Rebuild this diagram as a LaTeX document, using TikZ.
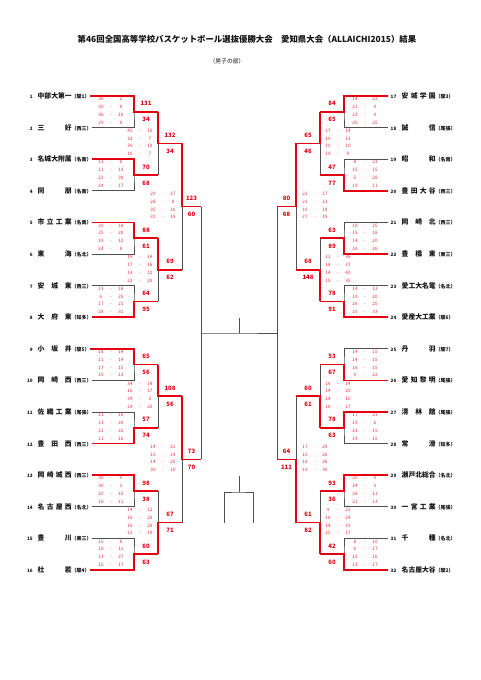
\documentclass[tikz,border=0pt]{standalone}
\usepackage{fontspec}
\setmainfont{Noto Sans CJK JP}
\usetikzlibrary{positioning}
\definecolor{winred}{RGB}{228,0,18}
\definecolor{scorered}{RGB}{232,40,50}
\definecolor{losegray}{RGB}{80,80,80}
\definecolor{titleblack}{RGB}{20,20,20}
% team label: number, spread name, district
\newcommand{\lteam}[3]{\makebox[7pt][r]{\fontsize{4.6}{5}\selectfont #1}\hspace{5pt}\makebox[34pt][s]{#2}{\fontsize{5}{6}\selectfont （#3）}}
\newcommand{\rteam}[3]{\hspace{2pt}\makebox[7pt][l]{\fontsize{4.6}{5}\selectfont #1}\hspace{4pt}\makebox[34pt][s]{#2}{\fontsize{5}{6}\selectfont （#3）}}
\newcommand{\qscore}[2]{\makebox[8pt]{#1}\makebox[12pt]{-}\makebox[8pt]{#2}}

\begin{document}
\begin{tikzpicture}[
                        x=1pt, y=-1pt,
                        team/.style={inner sep=0.5pt, text=titleblack,
                                font=\fontsize{6.8}{8}\selectfont\bfseries},
                        quarters/.style={align=center, inner sep=0pt, text=scorered,
                                font=\fontsize{4.6}{7.8}\selectfont},
                        total/.style={inner sep=0pt, text=winred,
                                font=\fontsize{6}{7}\selectfont\bfseries},
                        gline/.style={draw=losegray, line width=0.85pt},
                        wline/.style={draw=winred, line width=1.5pt}
                    ]
                    \useasboundingbox (0,0) rectangle (481,680);

                    % ===== Title =====
                    \node[text=titleblack, font=\fontsize{8.4}{10}\selectfont\bfseries] (title) at (247,39)
                    {第46回全国高等学校バスケットボール選抜優勝大会　愛知県大会（ALLAICHI2015）結果};
                    \node[text=titleblack, font=\fontsize{5.8}{7}\selectfont] (subtitle) at (227,61) {（男子の部）};

                    % ===== Teams (left) =====
                    \node[team, anchor=west] (t1) at (25,96) {\lteam{1}{中部大第一}{駿1}};
                    \node[team, anchor=west] (t2) at (25,127.6) {\lteam{2}{三\hfill 好}{西三}};
                    \node[team, anchor=west] (t3) at (25,159.2) {\lteam{3}{名城大附属}{名南}};
                    \node[team, anchor=west] (t4) at (25,190.8) {\lteam{4}{同\hfill 朋}{名南}};
                    \node[team, anchor=west] (t5) at (25,222.4) {\lteam{5}{市\hfill 立\hfill 工\hfill 業}{名南}};
                    \node[team, anchor=west] (t6) at (25,254) {\lteam{6}{東\hfill 海}{名北}};
                    \node[team, anchor=west] (t7) at (25,285.6) {\lteam{7}{安\hfill 城\hfill 東}{西三}};
                    \node[team, anchor=west] (t8) at (25,317.2) {\lteam{8}{大\hfill 府\hfill 東}{知多}};
                    \node[team, anchor=west] (t9) at (25,348.8) {\lteam{9}{小\hfill 坂\hfill 井}{駿5}};
                    \node[team, anchor=west] (t10) at (25,380.4) {\lteam{10}{岡\hfill 崎\hfill 西}{西三}};
                    \node[team, anchor=west] (t11) at (25,412) {\lteam{11}{佐\hfill 織\hfill 工\hfill 業}{尾張}};
                    \node[team, anchor=west] (t12) at (25,443.6) {\lteam{12}{豊\hfill 田\hfill 西}{西三}};
                    \node[team, anchor=west] (t13) at (25,475.2) {\lteam{13}{岡\hfill 崎\hfill 城\hfill 西}{西三}};
                    \node[team, anchor=west] (t14) at (25,506.8) {\lteam{14}{名\hfill 古\hfill 屋\hfill 西}{名北}};
                    \node[team, anchor=west] (t15) at (25,538.4) {\lteam{15}{豊\hfill 川}{東三}};
                    \node[team, anchor=west] (t16) at (25,570) {\lteam{16}{杜\hfill 若}{駿4}};

                    % ===== Teams (right) =====
                    \node[team, anchor=west] (t17) at (388,96) {\rteam{17}{安\hfill 城\hfill 学\hfill 園}{駿3}};
                    \node[team, anchor=west] (t18) at (388,127.6) {\rteam{18}{誠\hfill 信}{尾張}};
                    \node[team, anchor=west] (t19) at (388,159.2) {\rteam{19}{昭\hfill 和}{名南}};
                    \node[team, anchor=west] (t20) at (388,190.8) {\rteam{20}{豊\hfill 田\hfill 大\hfill 谷}{西三}};
                    \node[team, anchor=west] (t21) at (388,222.4) {\rteam{21}{岡\hfill 崎\hfill 北}{西三}};
                    \node[team, anchor=west] (t22) at (388,254) {\rteam{22}{豊\hfill 橋\hfill 東}{東三}};
                    \node[team, anchor=west] (t23) at (388,285.6) {\rteam{23}{愛工大名電}{名北}};
                    \node[team, anchor=west] (t24) at (388,317.2) {\rteam{24}{愛産大工業}{駿6}};
                    \node[team, anchor=west] (t25) at (388,348.8) {\rteam{25}{丹\hfill 羽}{駿7}};
                    \node[team, anchor=west] (t26) at (388,380.4) {\rteam{26}{愛\hfill 知\hfill 黎\hfill 明}{尾張}};
                    \node[team, anchor=west] (t27) at (388,412) {\rteam{27}{清\hfill 林\hfill 館}{尾張}};
                    \node[team, anchor=west] (t28) at (388,443.6) {\rteam{28}{常\hfill 滑}{知多}};
                    \node[team, anchor=west] (t29) at (388,475.2) {\rteam{29}{瀬戸北総合}{名北}};
                    \node[team, anchor=west] (t30) at (388,506.8) {\rteam{30}{一\hfill 宮\hfill 工\hfill 業}{尾張}};
                    \node[team, anchor=west] (t31) at (388,538.4) {\rteam{31}{千\hfill 種}{名北}};
                    \node[team, anchor=west] (t32) at (388,570) {\rteam{32}{名古屋大谷}{駿2}};

                    % ===== Bracket junctions =====
                    \coordinate (a1) at (134,111.8);  \coordinate (a2) at (134,175);
                    \coordinate (a3) at (134,238.2);  \coordinate (a4) at (134,301.4);
                    \coordinate (a5) at (134,364.6);  \coordinate (a6) at (134,427.8);
                    \coordinate (a7) at (134,491);    \coordinate (a8) at (134,554.2);
                    \coordinate (b1) at (158,143.4);  \coordinate (b2) at (158,269.8);
                    \coordinate (b3) at (158,396.2);  \coordinate (b4) at (158,522.6);
                    \coordinate (c1) at (182,206.6);  \coordinate (c2) at (182,459.4);
                    \coordinate (d1) at (201,333);
                    \coordinate (a9) at (344,111.8);  \coordinate (a10) at (344,175);
                    \coordinate (a11) at (344,238.2); \coordinate (a12) at (344,301.4);
                    \coordinate (a13) at (344,364.6); \coordinate (a14) at (344,427.8);
                    \coordinate (a15) at (344,491);   \coordinate (a16) at (344,554.2);
                    \coordinate (b5) at (320,143.4);  \coordinate (b6) at (320,269.8);
                    \coordinate (b7) at (320,396.2);  \coordinate (b8) at (320,522.6);
                    \coordinate (c3) at (296,206.6);  \coordinate (c4) at (296,459.4);
                    \coordinate (d2) at (277,333);
                    \coordinate (fin) at (239,333);   \coordinate (fintop) at (239,318);
                    \coordinate (extop) at (239,476); \coordinate (exmid) at (239,492);
                    \coordinate (exl) at (224,523);   \coordinate (exr) at (253,523);

                    % ===== Gray brackets =====
                    \draw[gline] (t1.east) -| (a1) |- (t2.east);
                    \draw[gline] (t3.east) -| (a2) |- (t4.east);
                    \draw[gline] (t5.east) -| (a3) |- (t6.east);
                    \draw[gline] (t7.east) -| (a4) |- (t8.east);
                    \draw[gline] (t9.east) -| (a5) |- (t10.east);
                    \draw[gline] (t11.east) -| (a6) |- (t12.east);
                    \draw[gline] (t13.east) -| (a7) |- (t14.east);
                    \draw[gline] (t15.east) -| (a8) |- (t16.east);
                    \draw[gline] (t17.west) -| (a9) |- (t18.west);
                    \draw[gline] (t19.west) -| (a10) |- (t20.west);
                    \draw[gline] (t21.west) -| (a11) |- (t22.west);
                    \draw[gline] (t23.west) -| (a12) |- (t24.west);
                    \draw[gline] (t25.west) -| (a13) |- (t26.west);
                    \draw[gline] (t27.west) -| (a14) |- (t28.west);
                    \draw[gline] (t29.west) -| (a15) |- (t30.west);
                    \draw[gline] (t31.west) -| (a16) |- (t32.west);
                    \draw[gline] (a1 -| b1) -- (a2 -| b1);
                    \draw[gline] (a3 -| b2) -- (a4 -| b2);
                    \draw[gline] (a5 -| b3) -- (a6 -| b3);
                    \draw[gline] (a7 -| b4) -- (a8 -| b4);
                    \draw[gline] (a9 -| b5) -- (a10 -| b5);
                    \draw[gline] (a11 -| b6) -- (a12 -| b6);
                    \draw[gline] (a13 -| b7) -- (a14 -| b7);
                    \draw[gline] (a15 -| b8) -- (a16 -| b8);
                    \draw[gline] (b1 -| c1) -- (b2 -| c1);
                    \draw[gline] (b3 -| c2) -- (b4 -| c2);
                    \draw[gline] (b5 -| c3) -- (b6 -| c3);
                    \draw[gline] (b7 -| c4) -- (b8 -| c4);
                    \draw[gline] (c1 -| d1) -- (c2 -| d1);
                    \draw[gline] (c3 -| d2) -- (c4 -| d2);
                    \draw[gline] (d1) -- (fin) -- (d2);
                    \draw[gline] (fin) -- (fintop);
                    \draw[gline] (exl) |- (exmid) -| (exr);
                    \draw[gline] (exmid) -- (extop);

                    % ===== Winners (red) =====
                    \draw[wline] (t1.east) -| (a1) -- (a1 -| b1);
                    \draw[wline] (t3.east) -| (a2) -- (a2 -| b1);
                    \draw[wline] (t5.east) -| (a3) -- (a3 -| b2);
                    \draw[wline] (t8.east) -| (a4) -- (a4 -| b2);
                    \draw[wline] (t9.east) -| (a5) -- (a5 -| b3);
                    \draw[wline] (t12.east) -| (a6) -- (a6 -| b3);
                    \draw[wline] (t13.east) -| (a7) -- (a7 -| b4);
                    \draw[wline] (t16.east) -| (a8) -- (a8 -| b4);
                    \draw[wline] (t17.west) -| (a9) -- (a9 -| b5);
                    \draw[wline] (t20.west) -| (a10) -- (a10 -| b5);
                    \draw[wline] (t22.west) -| (a11) -- (a11 -| b6);
                    \draw[wline] (t24.west) -| (a12) -- (a12 -| b6);
                    \draw[wline] (t26.west) -| (a13) -- (a13 -| b7);
                    \draw[wline] (t27.west) -| (a14) -- (a14 -| b7);
                    \draw[wline] (t29.west) -| (a15) -- (a15 -| b8);
                    \draw[wline] (t32.west) -| (a16) -- (a16 -| b8);
                    \draw[wline] (a1 -| b1) -- (b1) -- (b1 -| c1);
                    \draw[wline] (a3 -| b2) -- (b2) -- (b2 -| c1);
                    \draw[wline] (a5 -| b3) -- (b3) -- (b3 -| c2);
                    \draw[wline] (a8 -| b4) -- (b4) -- (b4 -| c2);
                    \draw[wline] (a9 -| b5) -- (b5) -- (b5 -| c3);
                    \draw[wline] (a12 -| b6) -- (b6) -- (b6 -| c3);
                    \draw[wline] (a14 -| b7) -- (b7) -- (b7 -| c4);
                    \draw[wline] (a16 -| b8) -- (b8) -- (b8 -| c4);
                    \draw[wline] (b1 -| c1) -- (c1) -- (c1 -| d1);
                    \draw[wline] (b3 -| c2) -- (c2) -- (c2 -| d1);
                    \draw[wline] (b5 -| c3) -- (c3) -- (c3 -| d2);
                    \draw[wline] (b8 -| c4) -- (c4) -- (c4 -| d2);

                    % ===== Quarter scores =====
                    \node[quarters] (q1) at (111,110.8) {\qscore{36}{2}\\\qscore{30}{8}\\\qscore{36}{16}\\\qscore{29}{8}};
                    \node[quarters] (q2) at (111,174) {\qscore{13}{8}\\\qscore{11}{13}\\\qscore{22}{30}\\\qscore{24}{17}};
                    \node[quarters] (q3) at (111,237.2) {\qscore{20}{18}\\\qscore{25}{20}\\\qscore{19}{12}\\\qscore{24}{8}};
                    \node[quarters] (q4) at (111,300.4) {\qscore{13}{18}\\\qscore{6}{25}\\\qscore{17}{21}\\\qscore{28}{31}};
                    \node[quarters] (q5) at (111,363.6) {\qscore{18}{14}\\\qscore{11}{14}\\\qscore{17}{15}\\\qscore{19}{13}};
                    \node[quarters] (q6) at (111,426.8) {\qscore{21}{16}\\\qscore{13}{20}\\\qscore{12}{22}\\\qscore{11}{16}};
                    \node[quarters] (q7) at (111,490) {\qscore{30}{9}\\\qscore{30}{3}\\\qscore{20}{15}\\\qscore{18}{11}};
                    \node[quarters] (q8) at (111,553.2) {\qscore{15}{8}\\\qscore{18}{11}\\\qscore{13}{27}\\\qscore{15}{17}};
                    \node[quarters] (q9) at (140,142.4) {\qscore{45}{10}\\\qscore{32}{7}\\\qscore{39}{10}\\\qscore{16}{7}};
                    \node[quarters] (q10) at (140,268.8) {\qscore{16}{14}\\\qscore{17}{16}\\\qscore{14}{12}\\\qscore{22}{20}};
                    \node[quarters] (q11) at (140,395.2) {\qscore{34}{14}\\\qscore{16}{17}\\\qscore{34}{5}\\\qscore{24}{20}};
                    \node[quarters] (q12) at (140,521.6) {\qscore{14}{12}\\\qscore{16}{20}\\\qscore{16}{20}\\\qscore{21}{19}};
                    \node[quarters] (q13) at (163,205.6) {\qscore{29}{17}\\\qscore{28}{8}\\\qscore{35}{16}\\\qscore{31}{19}};
                    \node[quarters] (q14) at (163,458.4) {\qscore{14}{21}\\\qscore{15}{14}\\\qscore{14}{25}\\\qscore{30}{10}};
                    \node[quarters] (q17) at (365,110.8) {\qscore{14}{22}\\\qscore{21}{9}\\\qscore{23}{9}\\\qscore{26}{25}};
                    \node[quarters] (q18) at (365,174) {\qscore{8}{23}\\\qscore{15}{15}\\\qscore{5}{28}\\\qscore{19}{11}};
                    \node[quarters] (q19) at (365,237.2) {\qscore{18}{25}\\\qscore{15}{18}\\\qscore{14}{20}\\\qscore{16}{26}};
                    \node[quarters] (q20) at (365,300.4) {\qscore{14}{13}\\\qscore{19}{20}\\\qscore{26}{25}\\\qscore{19}{33}};
                    \node[quarters] (q21) at (365,363.6) {\qscore{14}{15}\\\qscore{14}{15}\\\qscore{16}{15}\\\qscore{9}{22}};
                    \node[quarters] (q22) at (365,426.8) {\qscore{17}{23}\\\qscore{19}{6}\\\qscore{23}{19}\\\qscore{19}{15}};
                    \node[quarters] (q23) at (365,490) {\qscore{20}{9}\\\qscore{24}{3}\\\qscore{28}{11}\\\qscore{21}{13}};
                    \node[quarters] (q24) at (365,553.2) {\qscore{8}{10}\\\qscore{6}{17}\\\qscore{15}{16}\\\qscore{13}{17}};
                    \node[quarters] (q25) at (338,142.4) {\qscore{17}{14}\\\qscore{19}{13}\\\qscore{10}{10}\\\qscore{19}{9}};
                    \node[quarters] (q26) at (338,268.8) {\qscore{21}{36}\\\qscore{18}{37}\\\qscore{14}{40}\\\qscore{15}{35}};
                    \node[quarters] (q27) at (338,395.2) {\qscore{16}{14}\\\qscore{14}{20}\\\qscore{14}{10}\\\qscore{16}{17}};
                    \node[quarters] (q28) at (338,521.6) {\qscore{4}{22}\\\qscore{18}{24}\\\qscore{14}{19}\\\qscore{25}{17}};
                    \node[quarters] (q29) at (315,205.6) {\qscore{22}{17}\\\qscore{21}{13}\\\qscore{10}{19}\\\qscore{27}{19}};
                    \node[quarters] (q30) at (315,458.4) {\qscore{17}{29}\\\qscore{10}{26}\\\qscore{18}{26}\\\qscore{19}{30}};

                    % ===== Totals =====
                    \node[total] (a1u) at (146,103.8) {131};  \node[total] (a1d) at (146,119.8) {34};
                    \node[total] (a2u) at (146,167) {70};     \node[total] (a2d) at (146,183) {68};
                    \node[total] (a3u) at (146,230.2) {88};   \node[total] (a3d) at (146,246.2) {61};
                    \node[total] (a4u) at (146,293.4) {64};   \node[total] (a4d) at (146,309.4) {95};
                    \node[total] (a5u) at (146,356.6) {65};   \node[total] (a5d) at (146,372.6) {56};
                    \node[total] (a6u) at (146,419.8) {57};   \node[total] (a6d) at (146,435.8) {74};
                    \node[total] (a7u) at (146,483) {98};     \node[total] (a7d) at (146,499) {38};
                    \node[total] (a8u) at (146,546.2) {60};   \node[total] (a8d) at (146,562.2) {63};
                    \node[total] (b1u) at (170,135.4) {132};  \node[total] (b1d) at (170,151.4) {34};
                    \node[total] (b2u) at (170,261.8) {69};   \node[total] (b2d) at (170,277.8) {62};
                    \node[total] (b3u) at (170,388.2) {108};  \node[total] (b3d) at (170,404.2) {56};
                    \node[total] (b4u) at (170,514.6) {67};   \node[total] (b4d) at (170,530.6) {71};
                    \node[total] (c1u) at (191.5,198.6) {123}; \node[total] (c1d) at (191.5,214.6) {60};
                    \node[total] (c2u) at (191.5,451.4) {73};  \node[total] (c2d) at (191.5,467.4) {70};
                    \node[total] (a9u) at (332,103.8) {84};   \node[total] (a9d) at (332,119.8) {65};
                    \node[total] (a10u) at (332,167) {47};    \node[total] (a10d) at (332,183) {77};
                    \node[total] (a11u) at (332,230.2) {63};  \node[total] (a11d) at (332,246.2) {89};
                    \node[total] (a12u) at (332,293.4) {78};  \node[total] (a12d) at (332,309.4) {91};
                    \node[total] (a13u) at (332,356.6) {53};  \node[total] (a13d) at (332,372.6) {67};
                    \node[total] (a14u) at (332,419.8) {78};  \node[total] (a14d) at (332,435.8) {63};
                    \node[total] (a15u) at (332,483) {93};    \node[total] (a15d) at (332,499) {36};
                    \node[total] (a16u) at (332,546.2) {42};  \node[total] (a16d) at (332,562.2) {60};
                    \node[total] (b5u) at (308,135.4) {65};   \node[total] (b5d) at (308,151.4) {46};
                    \node[total] (b6u) at (308,261.8) {68};   \node[total] (b6d) at (308,277.8) {148};
                    \node[total] (b7u) at (308,388.2) {60};   \node[total] (b7d) at (308,404.2) {61};
                    \node[total] (b8u) at (308,514.6) {61};   \node[total] (b8d) at (308,530.6) {82};
                    \node[total] (c3u) at (286.5,198.6) {80};  \node[total] (c3d) at (286.5,214.6) {68};
                    \node[total] (c4u) at (286.5,451.4) {64};  \node[total] (c4d) at (286.5,467.4) {111};

                \end{tikzpicture}
\end{document}
